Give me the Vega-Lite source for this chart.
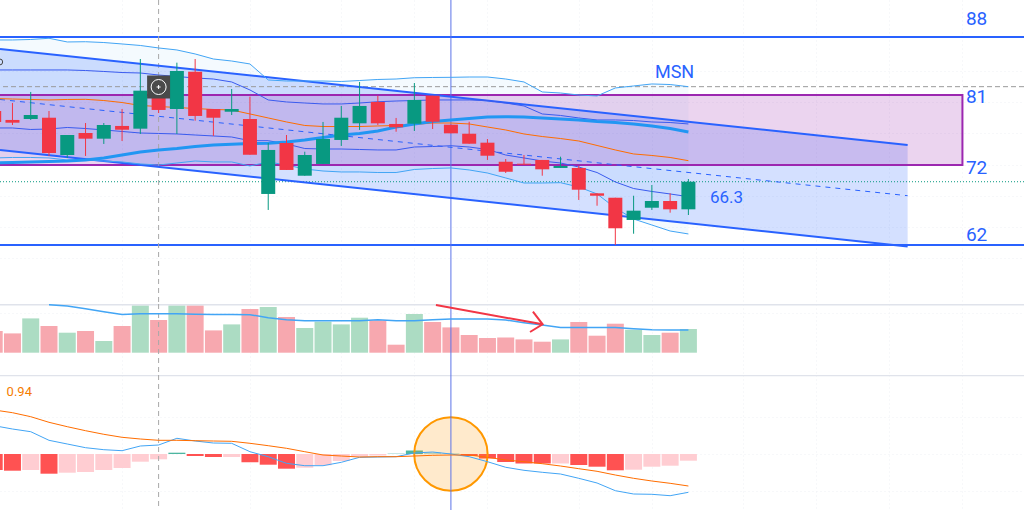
{
  "$schema": "https://vega.github.io/schema/vega-lite/v6.json",
  "background": "white",
  "padding": 0,
  "spacing": 0,
  "bounds": "flush",
  "config": {
    "view": { "stroke": null },
    "axis": { "domain": false, "ticks": false, "labels": false, "grid": true, "gridColor": "#eef0f5", "gridDash": [1, 3], "gridWidth": 1, "tickSize": 0, "labelPadding": 0, "titlePadding": 0, "minExtent": 0, "maxExtent": 0 },
    "text": { "font": "Roboto" }
  },
  "resolve": { "scale": { "color": "independent" } },
  "datasets": {
    "bars": [
      {"s":0,"open":78.75,"close":77.38,"high":79.13,"low":77.13,"dir":"down","upper":87.63,"lower":72.88,"innerUp":83.88,"innerLow":76.63,"ma1":80.31,"ma2":72.25,"vol":21.7,"hist":-16,"tone":"fallDark","macd":28.3,"signal":44},
      {"s":1,"open":77.63,"close":77.29,"high":79.75,"low":77.0,"dir":"down","upper":87.63,"lower":72.94,"innerUp":83.88,"innerLow":76.63,"ma1":80.25,"ma2":72.31,"vol":19.3,"hist":-16.7,"tone":"fallDark","macd":25,"signal":41.3},
      {"s":2,"open":77.75,"close":78.25,"high":81.13,"low":77.63,"dir":"up","upper":87.69,"lower":72.94,"innerUp":83.88,"innerLow":76.44,"ma1":80.19,"ma2":72.38,"vol":34.3,"hist":-16,"tone":"fallPale","macd":22.3,"signal":37.3},
      {"s":3,"open":77.91,"close":73.5,"high":78.75,"low":73.13,"dir":"down","upper":87.84,"lower":72.88,"innerUp":83.88,"innerLow":76.5,"ma1":80.13,"ma2":72.44,"vol":26.7,"volMa":48,"hist":-19.7,"tone":"fallDark","macd":13.7,"signal":31.7},
      {"s":4,"open":73.25,"close":75.75,"high":75.75,"low":72.88,"dir":"up","upper":87.38,"lower":72.63,"innerUp":83.88,"innerLow":76.69,"ma1":80.19,"ma2":72.5,"vol":20,"volMa":46.7,"hist":-18.7,"tone":"fallPale","macd":10,"signal":27.3},
      {"s":5,"open":76.0,"close":75.29,"high":77.25,"low":73.13,"dir":"down","upper":87.41,"lower":72.63,"innerUp":83.81,"innerLow":76.56,"ma1":80.21,"ma2":72.63,"vol":21.7,"volMa":44,"hist":-18,"tone":"fallPale","macd":6.3,"signal":23.3},
      {"s":6,"open":75.29,"close":77.0,"high":77.25,"low":74.63,"dir":"up","upper":87.31,"lower":72.5,"innerUp":83.69,"innerLow":76.38,"ma1":80.06,"ma2":72.88,"vol":11.7,"volMa":41,"hist":-16,"tone":"fallPale","macd":4.3,"signal":19.7},
      {"s":7,"open":76.88,"close":76.41,"high":79.0,"low":75.0,"dir":"down","upper":87.13,"lower":72.38,"innerUp":83.56,"innerLow":76.19,"ma1":79.81,"ma2":73.25,"vol":26.7,"volMa":38.3,"hist":-14,"tone":"fallPale","macd":3.3,"signal":16.7},
      {"s":8,"open":76.54,"close":81.29,"high":85.25,"low":75.88,"dir":"up","upper":86.94,"lower":72.13,"innerUp":83.5,"innerLow":76.0,"ma1":79.44,"ma2":73.63,"vol":47.3,"volMa":39,"hist":-7.7,"tone":"fallPale","macd":8,"signal":15},
      {"s":9,"open":81.38,"close":78.88,"high":82.0,"low":78.5,"dir":"down","upper":86.63,"lower":72.0,"innerUp":83.25,"innerLow":75.94,"ma1":79.31,"ma2":73.88,"vol":32.7,"volMa":39,"hist":-5.3,"tone":"fallPale","macd":9,"signal":13.7},
      {"s":10,"open":79.0,"close":83.75,"high":84.79,"low":75.88,"dir":"up","upper":86.38,"lower":72.25,"innerUp":83.06,"innerLow":75.88,"ma1":79.19,"ma2":74.06,"vol":47.3,"volMa":39,"hist":1.3,"tone":"riseDark","macd":15.7,"signal":13.7},
      {"s":11,"open":83.66,"close":78.13,"high":85.25,"low":77.54,"dir":"down","upper":85.88,"lower":72.5,"innerUp":82.88,"innerLow":75.75,"ma1":79.06,"ma2":74.31,"vol":47.3,"volMa":38.5,"hist":-2,"tone":"fallDark","macd":13,"signal":13.3},
      {"s":12,"open":79.0,"close":77.91,"high":79.0,"low":75.63,"dir":"down","upper":85.25,"lower":72.38,"innerUp":82.75,"innerLow":75.63,"ma1":78.94,"ma2":74.5,"vol":22.3,"volMa":38.3,"hist":-3,"tone":"fallDark","macd":11,"signal":13},
      {"s":13,"open":78.66,"close":79.0,"high":81.5,"low":78.25,"dir":"up","upper":85.0,"lower":72.38,"innerUp":82.38,"innerLow":75.5,"ma1":78.88,"ma2":74.6,"vol":28.3,"volMa":38.3,"hist":-3,"tone":"fallPale","macd":10.7,"signal":12.7},
      {"s":14,"open":77.75,"close":73.29,"high":80.54,"low":73.29,"dir":"down","upper":84.63,"lower":71.88,"innerUp":81.38,"innerLow":75.04,"ma1":78.38,"ma2":74.69,"vol":43.7,"volMa":38,"hist":-8.3,"tone":"fallDark","macd":2.3,"signal":10.7},
      {"s":15,"open":68.38,"close":73.88,"high":74.75,"low":66.38,"dir":"up","upper":82.63,"lower":72.38,"innerUp":80.13,"innerLow":75.04,"ma1":77.88,"ma2":74.71,"vol":45.7,"volMa":35,"hist":-10.7,"tone":"fallDark","macd":-2.7,"signal":8.3},
      {"s":16,"open":74.75,"close":71.38,"high":75.75,"low":71.38,"dir":"down","upper":82.5,"lower":72.0,"innerUp":79.88,"innerLow":74.63,"ma1":77.38,"ma2":74.88,"vol":35.7,"volMa":33,"hist":-14.7,"tone":"fallDark","macd":-9.3,"signal":5.7},
      {"s":17,"open":70.66,"close":73.25,"high":73.66,"low":70.66,"dir":"up","upper":82.5,"lower":71.5,"innerUp":79.75,"innerLow":74.06,"ma1":76.94,"ma2":75.13,"vol":24.7,"volMa":32,"hist":-13.7,"tone":"fallPale","macd":-11.7,"signal":2.3},
      {"s":18,"open":72.13,"close":75.25,"high":77.38,"low":72.13,"dir":"up","upper":82.5,"lower":71.25,"innerUp":79.63,"innerLow":74.0,"ma1":76.81,"ma2":75.44,"vol":31,"volMa":32,"hist":-11.3,"tone":"fallPale","macd":-11.7,"signal":-1},
      {"s":19,"open":75.13,"close":77.91,"high":79.38,"low":74.38,"dir":"up","upper":82.44,"lower":71.13,"innerUp":79.63,"innerLow":74.0,"ma1":76.81,"ma2":75.75,"vol":28.3,"volMa":32,"hist":-7,"tone":"fallPale","macd":-8.3,"signal":-2},
      {"s":20,"open":77.21,"close":79.38,"high":82.38,"low":76.38,"dir":"up","upper":82.56,"lower":71.13,"innerUp":79.75,"innerLow":73.94,"ma1":76.81,"ma2":75.94,"vol":35,"volMa":32,"hist":-2.5,"tone":"fallPale","macd":-3.3,"signal":-3},
      {"s":21,"open":79.88,"close":77.21,"high":80.66,"low":77.0,"dir":"down","upper":82.69,"lower":71.06,"innerUp":79.91,"innerLow":73.88,"ma1":76.88,"ma2":76.25,"vol":32.3,"volMa":33,"hist":-1.5,"tone":"fallPale","macd":-3,"signal":-2.7},
      {"s":22,"open":77.13,"close":76.71,"high":77.88,"low":76.16,"dir":"down","upper":82.75,"lower":71.06,"innerUp":80.0,"innerLow":73.88,"ma1":76.94,"ma2":76.75,"vol":8,"volMa":32,"hist":0.7,"tone":"risePale","macd":-2.7,"signal":-2.7},
      {"s":23,"open":77.16,"close":80.13,"high":82.25,"low":76.25,"dir":"up","upper":82.91,"lower":71.44,"innerUp":80.06,"innerLow":74.25,"ma1":77.06,"ma2":77.13,"vol":38.7,"volMa":32,"hist":3.5,"tone":"riseDark","macd":1,"signal":-2},
      {"s":24,"open":80.66,"close":77.41,"high":80.66,"low":76.5,"dir":"down","upper":82.94,"lower":71.56,"innerUp":80.13,"innerLow":74.31,"ma1":77.25,"ma2":77.44,"vol":30.7,"volMa":33,"hist":1.5,"tone":"risePale","macd":2,"signal":-1.3},
      {"s":25,"open":77.04,"close":75.96,"high":77.04,"low":75.96,"dir":"down","upper":82.96,"lower":71.63,"innerUp":80.13,"innerLow":74.41,"ma1":77.25,"ma2":77.63,"vol":25.3,"volMa":33.7,"hist":0.7,"tone":"risePale","macd":0,"signal":-1},
      {"s":26,"open":75.91,"close":74.66,"high":77.41,"low":74.66,"dir":"down","upper":83.0,"lower":71.38,"innerUp":80.13,"innerLow":74.25,"ma1":77.13,"ma2":77.81,"vol":17.7,"volMa":33.7,"hist":-2,"tone":"fallDark","macd":-2.7,"signal":-1},
      {"s":27,"open":74.79,"close":73.16,"high":75.25,"low":72.63,"dir":"down","upper":83.0,"lower":71.0,"innerUp":80.06,"innerLow":73.94,"ma1":76.75,"ma2":78.0,"vol":14.7,"volMa":33.7,"hist":-4.5,"tone":"fallDark","macd":-7.7,"signal":-3.3},
      {"s":28,"open":72.41,"close":71.16,"high":72.75,"low":71.0,"dir":"down","upper":82.75,"lower":70.38,"innerUp":79.75,"innerLow":73.25,"ma1":76.38,"ma2":78.04,"vol":15.3,"volMa":32.7,"hist":-8,"tone":"fallDark","macd":-13.3,"signal":-6},
      {"s":29,"open":72.16,"close":72.04,"high":73.25,"low":72.04,"dir":"down","upper":82.38,"lower":69.75,"innerUp":79.38,"innerLow":72.88,"ma1":75.88,"ma2":78.0,"vol":13.3,"volMa":30,"hist":-9.5,"tone":"fallDark","macd":-16.3,"signal":-7.7},
      {"s":30,"open":72.63,"close":71.46,"high":72.63,"low":70.66,"dir":"down","upper":81.13,"lower":69.75,"innerUp":78.38,"innerLow":72.5,"ma1":75.56,"ma2":77.88,"vol":11,"volMa":27.7,"hist":-9.5,"tone":"fallDark","macd":-18.3,"signal":-9.7},
      {"s":31,"open":71.63,"close":71.88,"high":73.04,"low":71.63,"dir":"up","upper":81.0,"lower":69.79,"innerUp":78.19,"innerLow":72.25,"ma1":75.31,"ma2":77.75,"vol":13.3,"volMa":25.3,"hist":-9.5,"tone":"fallPale","macd":-20,"signal":-12},
      {"s":32,"open":71.63,"close":68.91,"high":71.88,"low":67.63,"dir":"down","upper":80.75,"lower":69.25,"innerUp":77.88,"innerLow":71.75,"ma1":75.0,"ma2":77.63,"vol":30.7,"volMa":25.3,"hist":-11,"tone":"fallDark","macd":-24.3,"signal":-14.7},
      {"s":33,"open":68.46,"close":68.16,"high":68.46,"low":66.91,"dir":"down","upper":80.63,"lower":68.38,"innerUp":77.63,"innerLow":71.06,"ma1":74.44,"ma2":77.44,"vol":17,"volMa":25.3,"hist":-12.7,"tone":"fallDark","macd":-29,"signal":-17.3},
      {"s":34,"open":67.91,"close":64.09,"high":67.91,"low":62.0,"dir":"down","upper":81.63,"lower":66.63,"innerUp":77.63,"innerLow":69.88,"ma1":73.88,"ma2":77.31,"vol":29,"volMa":25.3,"hist":-16.3,"tone":"fallDark","macd":-36.7,"signal":-21},
      {"s":35,"open":65.13,"close":66.29,"high":68.16,"low":63.41,"dir":"up","upper":81.88,"lower":65.25,"innerUp":77.56,"innerLow":69.06,"ma1":73.38,"ma2":77.13,"vol":23,"volMa":24,"hist":-15.7,"tone":"fallPale","macd":-40,"signal":-24.3},
      {"s":36,"open":66.66,"close":67.5,"high":69.5,"low":66.38,"dir":"up","upper":82.13,"lower":64.5,"innerUp":77.38,"innerLow":68.69,"ma1":73.19,"ma2":76.88,"vol":17.7,"volMa":23,"hist":-12.7,"tone":"fallPale","macd":-40.3,"signal":-27},
      {"s":37,"open":67.5,"close":66.46,"high":68.46,"low":66.04,"dir":"down","upper":82.06,"lower":63.75,"innerUp":77.31,"innerLow":68.38,"ma1":72.94,"ma2":76.56,"vol":20,"volMa":22.7,"hist":-11.7,"tone":"fallPale","macd":-41.7,"signal":-29.3},
      {"s":38,"open":66.46,"close":69.91,"high":70.25,"low":65.75,"dir":"up","upper":81.79,"lower":63.38,"innerUp":77.13,"innerLow":68.04,"ma1":72.54,"ma2":76.13,"vol":23.7,"volMa":22.7,"hist":-6.7,"tone":"fallPale","macd":-38.3,"signal":-32}
    ],
    "channel": [
      {"s":0.32,"top":86.5,"mid":80.19,"bottom":73.88},
      {"s":50,"top":74.5,"mid":68.16,"bottom":61.81}
    ]
  },
  "vconcat": [
    {
      "width": 1024,
      "height": 304,
      "layer": [
        {
          "data": {"name": "bars"},
          "mark": {"type": "area", "color": "#2196f3", "opacity": 0.05, "clip": true},
          "encoding": {
            "x": {"field": "s", "type": "quantitative", "title": null, "scale": {"domain": [0.318, 56.37], "nice": false, "zero": false, "padding": 0}, "axis": {"title": null, "values": [7, 14, 19, 23, 27, 32, 36, 41, 45, 49, 53]}},
            "y": {"field": "upper", "type": "quantitative", "title": null, "scale": {"domain": [54.625, 92.625], "nice": false, "zero": false}, "axis": {"title": null, "values": [83.75, 79.88, 76, 72, 68.13, 64.25, 60.38]}},
            "y2": {"field": "lower"}
          }
        },
        {
          "data": {"name": "channel"},
          "mark": {"type": "area", "color": "#2962ff", "opacity": 0.2, "clip": true},
          "encoding": {
            "x": {"field": "s", "type": "quantitative"},
            "y": {"field": "top", "type": "quantitative"},
            "y2": {"field": "bottom"}
          }
        },
        {
          "data": {"values": [{"from": -2, "to": 53, "high": 80.75, "low": 72}]},
          "mark": {"type": "rect", "fill": "#9c27b0", "fillOpacity": 0.2, "stroke": "#9c27b0", "strokeWidth": 2, "clip": true},
          "encoding": {
            "x": {"field": "from", "type": "quantitative"},
            "x2": {"field": "to"},
            "y": {"field": "high", "type": "quantitative"},
            "y2": {"field": "low"}
          }
        },
        {
          "data": {"values": [{"level": 88}, {"level": 62}]},
          "mark": {"type": "rule", "color": "#2962ff", "strokeWidth": 2, "clip": true},
          "encoding": {"y": {"field": "level", "type": "quantitative"}}
        },
        {
          "data": {"values": [{"level": 81.79}]},
          "mark": {"type": "rule", "color": "#9a9a9a", "strokeDash": [5, 3], "strokeWidth": 1, "clip": true},
          "encoding": {"y": {"field": "level", "type": "quantitative"}}
        },
        {
          "data": {"values": [{"level": 69.91}]},
          "mark": {"type": "rule", "color": "#089981", "strokeDash": [1, 2], "strokeWidth": 1, "clip": true},
          "encoding": {"y": {"field": "level", "type": "quantitative"}}
        },
        {
          "data": {"values": [{"s": 9}]},
          "mark": {"type": "rule", "color": "#a8a8a8", "strokeDash": [5, 4], "strokeWidth": 1, "clip": true},
          "encoding": {"x": {"field": "s", "type": "quantitative"}}
        },
        {
          "data": {"values": [{"s": 25}]},
          "mark": {"type": "rule", "color": "#5b73e8", "strokeWidth": 1, "clip": true},
          "encoding": {"x": {"field": "s", "type": "quantitative"}}
        },
        {
          "data": {"name": "channel"},
          "mark": {"type": "line", "color": "#2962ff", "strokeWidth": 2, "clip": true},
          "encoding": {"x": {"field": "s", "type": "quantitative"}, "y": {"field": "top", "type": "quantitative"}}
        },
        {
          "data": {"name": "channel"},
          "mark": {"type": "line", "color": "#2962ff", "strokeWidth": 1, "strokeDash": [5, 5], "clip": true},
          "encoding": {"x": {"field": "s", "type": "quantitative"}, "y": {"field": "mid", "type": "quantitative"}}
        },
        {
          "data": {"name": "channel"},
          "mark": {"type": "line", "color": "#2962ff", "strokeWidth": 2, "clip": true},
          "encoding": {"x": {"field": "s", "type": "quantitative"}, "y": {"field": "bottom", "type": "quantitative"}}
        },
        {
          "data": {"name": "bars"},
          "mark": {"type": "line", "color": "#42a5f5", "strokeWidth": 1, "clip": true},
          "encoding": {"x": {"field": "s", "type": "quantitative"}, "y": {"field": "upper", "type": "quantitative"}}
        },
        {
          "data": {"name": "bars"},
          "mark": {"type": "line", "color": "#42a5f5", "strokeWidth": 1, "clip": true},
          "encoding": {"x": {"field": "s", "type": "quantitative"}, "y": {"field": "lower", "type": "quantitative"}}
        },
        {
          "data": {"name": "bars"},
          "mark": {"type": "line", "color": "#3a5bef", "strokeWidth": 1, "clip": true},
          "encoding": {"x": {"field": "s", "type": "quantitative"}, "y": {"field": "innerUp", "type": "quantitative"}}
        },
        {
          "data": {"name": "bars"},
          "mark": {"type": "line", "color": "#3a5bef", "strokeWidth": 1, "clip": true},
          "encoding": {"x": {"field": "s", "type": "quantitative"}, "y": {"field": "innerLow", "type": "quantitative"}}
        },
        {
          "data": {"name": "bars"},
          "mark": {"type": "line", "color": "#ff6d00", "strokeWidth": 1, "clip": true},
          "encoding": {"x": {"field": "s", "type": "quantitative"}, "y": {"field": "ma1", "type": "quantitative"}}
        },
        {
          "data": {"name": "bars"},
          "mark": {"type": "line", "color": "#2196f3", "strokeWidth": 3, "clip": true},
          "encoding": {"x": {"field": "s", "type": "quantitative"}, "y": {"field": "ma2", "type": "quantitative"}}
        },
        {
          "data": {"name": "bars"},
          "mark": {"type": "rule", "strokeWidth": 1, "clip": true},
          "encoding": {
            "x": {"field": "s", "type": "quantitative"},
            "y": {"field": "high", "type": "quantitative"},
            "y2": {"field": "low"},
            "color": {"field": "dir", "type": "nominal", "legend": null, "scale": {"domain": ["up", "down"], "range": ["#089981", "#f23645"]}}
          }
        },
        {
          "data": {"name": "bars"},
          "mark": {"type": "bar", "size": 14, "clip": true},
          "encoding": {
            "x": {"field": "s", "type": "quantitative"},
            "y": {"field": "open", "type": "quantitative"},
            "y2": {"field": "close"},
            "color": {"field": "dir", "type": "nominal", "legend": null}
          }
        },
        {
          "data": {"values": [{"s": 9, "price": 81.75}]},
          "mark": {"type": "point", "shape": "square", "filled": true, "color": "#4a4a4a", "opacity": 1, "size": 529, "clip": true},
          "encoding": {"x": {"field": "s", "type": "quantitative"}, "y": {"field": "price", "type": "quantitative"}}
        },
        {
          "data": {"values": [{"s": 9, "price": 81.75}]},
          "mark": {"type": "point", "shape": "circle", "filled": false, "stroke": "white", "strokeWidth": 1, "opacity": 1, "size": 225, "clip": true},
          "encoding": {"x": {"field": "s", "type": "quantitative"}, "y": {"field": "price", "type": "quantitative"}}
        },
        {
          "data": {"values": [{"s": 9, "price": 81.75}]},
          "mark": {"type": "point", "shape": "M-0.5,0H0.5M0,-0.5V0.5", "filled": false, "stroke": "white", "strokeWidth": 1, "opacity": 1, "size": 64, "clip": true},
          "encoding": {"x": {"field": "s", "type": "quantitative"}, "y": {"field": "price", "type": "quantitative"}}
        },
        {
          "data": {"values": [{"s": 0.3, "price": 84.88}]},
          "mark": {"type": "point", "shape": "circle", "filled": false, "stroke": "#444444", "strokeWidth": 1, "opacity": 1, "size": 36, "clip": true},
          "encoding": {"x": {"field": "s", "type": "quantitative"}, "y": {"field": "price", "type": "quantitative"}}
        },
        {
          "data": {"values": [
            {"s": 53.19, "price": 90.31, "label": "88"},
            {"s": 53.19, "price": 80.56, "label": "81"},
            {"s": 53.19, "price": 71.63, "label": "72"},
            {"s": 53.19, "price": 63.29, "label": "62"}
          ]},
          "mark": {"type": "text", "align": "left", "baseline": "middle", "color": "#2962ff", "fontSize": 19, "clip": true},
          "encoding": {
            "x": {"field": "s", "type": "quantitative"},
            "y": {"field": "price", "type": "quantitative"},
            "text": {"field": "label"}
          }
        },
        {
          "data": {"values": [{"s": 36.17, "price": 83.54, "label": "MSN"}]},
          "mark": {"type": "text", "align": "left", "baseline": "middle", "color": "#2962ff", "fontSize": 18, "clip": true},
          "encoding": {
            "x": {"field": "s", "type": "quantitative"},
            "y": {"field": "price", "type": "quantitative"},
            "text": {"field": "label"}
          }
        },
        {
          "data": {"values": [{"s": 39.18, "price": 67.84, "label": "66.3"}]},
          "mark": {"type": "text", "align": "left", "baseline": "middle", "color": "#2962ff", "fontSize": 17, "clip": true},
          "encoding": {
            "x": {"field": "s", "type": "quantitative"},
            "y": {"field": "price", "type": "quantitative"},
            "text": {"field": "label"}
          }
        }
      ]
    },
    {
      "width": 1024,
      "height": 71,
      "layer": [
        {
          "data": {"name": "bars"},
          "mark": {"type": "bar", "orient": "vertical", "size": 17, "clip": true},
          "encoding": {
            "x": {"field": "s", "type": "quantitative", "title": null, "scale": {"domain": [0.318, 56.37], "nice": false, "zero": false, "padding": 0}, "axis": {"title": null, "values": [7, 14, 19, 23, 27, 32, 36, 41, 45, 49, 53]}},
            "y": {"field": "vol", "type": "quantitative", "title": null, "stack": null, "scale": {"domain": [-22.3, 48.7], "nice": false, "zero": false}, "axis": {"title": null, "values": [40]}},
            "color": {"field": "dir", "type": "nominal", "legend": null, "scale": {"domain": ["up", "down"], "range": ["#acdcc3", "#f7a8af"]}}
          }
        },
        {
          "data": {"values": [{"level": 48}]},
          "mark": {"type": "rule", "color": "#e0e3eb", "strokeWidth": 1.5, "clip": true},
          "encoding": {"y": {"field": "level", "type": "quantitative"}}
        },
        {
          "data": {"values": [{"s": 9}]},
          "mark": {"type": "rule", "color": "#a8a8a8", "strokeDash": [5, 4], "strokeWidth": 1, "clip": true},
          "encoding": {"x": {"field": "s", "type": "quantitative"}}
        },
        {
          "data": {"values": [{"s": 25}]},
          "mark": {"type": "rule", "color": "#5b73e8", "strokeWidth": 1, "clip": true},
          "encoding": {"x": {"field": "s", "type": "quantitative"}}
        },
        {
          "data": {"name": "bars"},
          "mark": {"type": "line", "color": "#42a5f5", "strokeWidth": 1.5, "clip": true},
          "encoding": {"x": {"field": "s", "type": "quantitative"}, "y": {"field": "volMa", "type": "quantitative"}}
        },
        {
          "data": {"values": [
            {"part": "shaft", "seq": 1, "s": 24.18, "v": 47.7},
            {"part": "shaft", "seq": 2, "s": 30.02, "v": 28.4},
            {"part": "head", "seq": 1, "s": 29.49, "v": 41},
            {"part": "head", "seq": 2, "s": 30.02, "v": 28.4},
            {"part": "head", "seq": 3, "s": 29.33, "v": 20.7}
          ]},
          "mark": {"type": "line", "color": "#f23645", "strokeWidth": 2, "clip": true},
          "encoding": {
            "x": {"field": "s", "type": "quantitative"},
            "y": {"field": "v", "type": "quantitative"},
            "detail": {"field": "part"},
            "order": {"field": "seq"}
          }
        }
      ]
    },
    {
      "width": 1024,
      "height": 135,
      "layer": [
        {
          "data": {"name": "bars"},
          "mark": {"type": "bar", "orient": "vertical", "size": 17, "clip": true},
          "encoding": {
            "x": {"field": "s", "type": "quantitative", "title": null, "scale": {"domain": [0.318, 56.37], "nice": false, "zero": false, "padding": 0}, "axis": {"title": null, "values": [7, 14, 19, 23, 27, 32, 36, 41, 45, 49, 53]}},
            "y": {"field": "hist", "type": "quantitative", "title": null, "stack": null, "scale": {"domain": [-56, 79], "nice": false, "zero": false}, "axis": {"title": null, "values": [37, 0, -37]}},
            "color": {"field": "tone", "type": "nominal", "legend": null, "scale": {"domain": ["fallDark", "fallPale", "riseDark", "risePale"], "range": ["#ff5252", "#ffcdd2", "#4db6a0", "#b2dfdb"]}}
          }
        },
        {
          "data": {"values": [{"level": 78.5}]},
          "mark": {"type": "rule", "color": "#e0e3eb", "strokeWidth": 1.5, "clip": true},
          "encoding": {"y": {"field": "level", "type": "quantitative"}}
        },
        {
          "data": {"values": [{"s": 9}]},
          "mark": {"type": "rule", "color": "#a8a8a8", "strokeDash": [5, 4], "strokeWidth": 1, "clip": true},
          "encoding": {"x": {"field": "s", "type": "quantitative"}}
        },
        {
          "data": {"values": [{"s": 25, "v": 0}]},
          "mark": {"type": "point", "shape": "circle", "filled": true, "fill": "#ff9800", "fillOpacity": 0.2, "stroke": "#ff9800", "strokeOpacity": 1, "strokeWidth": 2, "opacity": 1, "size": 5388, "clip": true},
          "encoding": {"x": {"field": "s", "type": "quantitative"}, "y": {"field": "v", "type": "quantitative"}}
        },
        {
          "data": {"values": [{"s": 25}]},
          "mark": {"type": "rule", "color": "#5b73e8", "strokeWidth": 1, "clip": true},
          "encoding": {"x": {"field": "s", "type": "quantitative"}}
        },
        {
          "data": {"name": "bars"},
          "mark": {"type": "line", "color": "#42a5f5", "strokeWidth": 1, "clip": true},
          "encoding": {"x": {"field": "s", "type": "quantitative"}, "y": {"field": "macd", "type": "quantitative"}}
        },
        {
          "data": {"name": "bars"},
          "mark": {"type": "line", "color": "#ff6d00", "strokeWidth": 1, "clip": true},
          "encoding": {"x": {"field": "s", "type": "quantitative"}, "y": {"field": "signal", "type": "quantitative"}}
        },
        {
          "data": {"values": [{"s": 0.68, "v": 62, "label": "0.94"}]},
          "mark": {"type": "text", "align": "left", "baseline": "middle", "color": "#f57c00", "fontSize": 13, "clip": true},
          "encoding": {
            "x": {"field": "s", "type": "quantitative"},
            "y": {"field": "v", "type": "quantitative"},
            "text": {"field": "label"}
          }
        }
      ]
    }
  ]
}
